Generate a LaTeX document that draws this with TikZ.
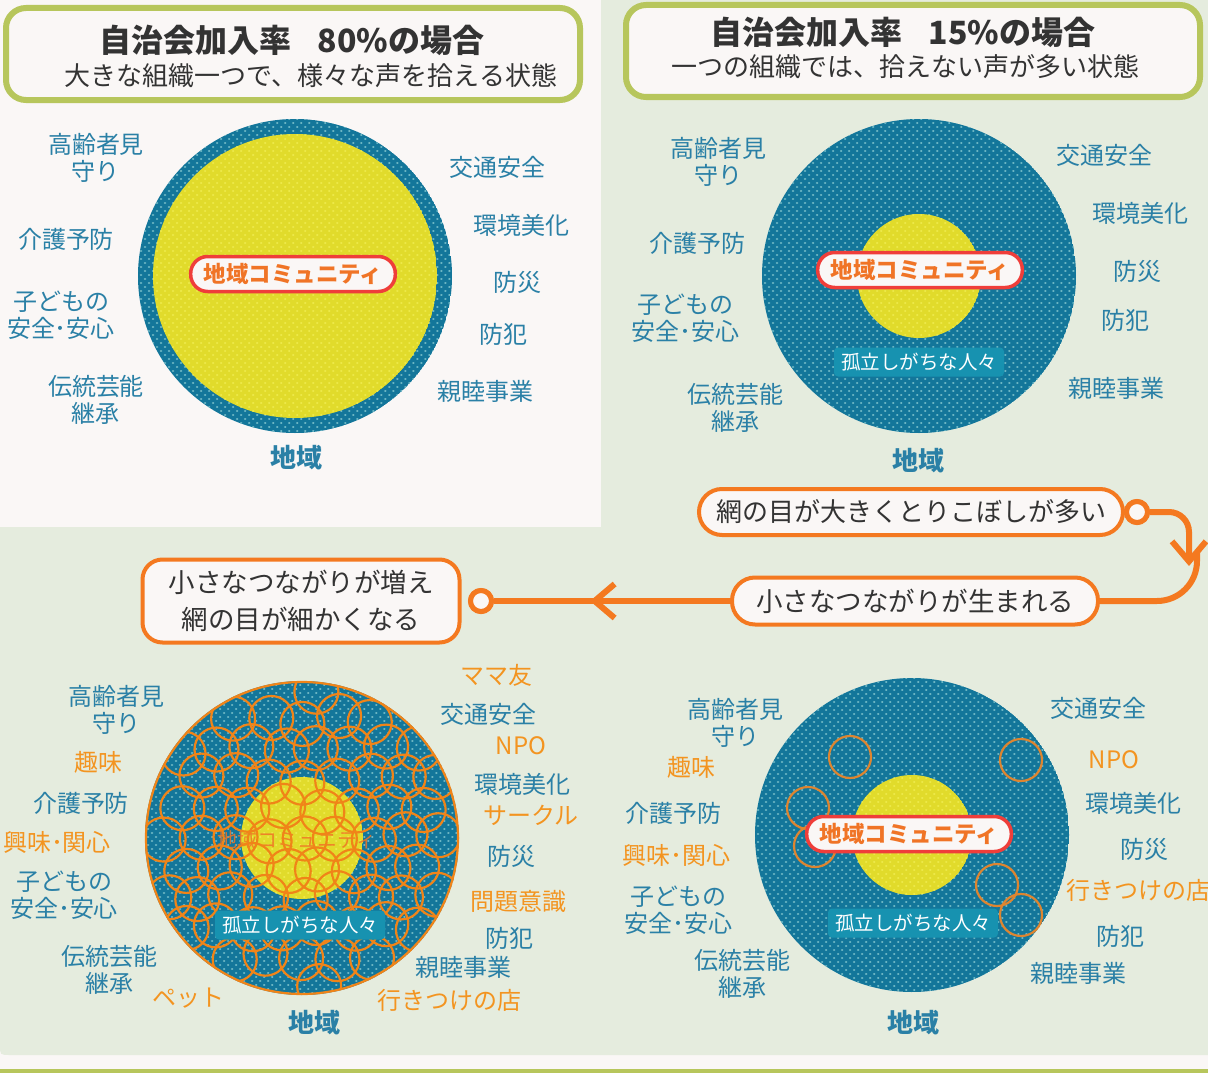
\documentclass[tikz,border=0pt]{standalone}
\usepackage{fontspec}
\newfontfamily\jp{Noto Sans CJK JP}
\usetikzlibrary{arrows.meta}
\definecolor{bg}{HTML}{FAF7F6}
\definecolor{panel}{HTML}{E5ECDE}
\definecolor{olive}{HTML}{B7C65C}
\definecolor{lblue}{HTML}{2A80A6}
\definecolor{lorange}{HTML}{F39420}
\definecolor{ringblue}{HTML}{13769A}
\definecolor{dotblue}{HTML}{74BCC8}
\definecolor{yel}{HTML}{E1DB2B}
\definecolor{doty}{HTML}{EEEA4C}
\definecolor{flow}{HTML}{F47920}
\definecolor{commred}{HTML}{EF3E3A}
\definecolor{commtext}{HTML}{F07426}
\definecolor{isoc}{HTML}{1792B0}
\definecolor{darktext}{HTML}{333333}
\definecolor{netc}{HTML}{F08418}
\definecolor{netc2}{HTML}{DE8530}
\tikzset{
  lbl/.style={text=lblue, font=\jp\fontsize{24}{27}\selectfont, align=center, inner sep=0pt},
  olbl/.style={text=lorange, font=\jp\fontsize{24}{27}\selectfont, align=center, inner sep=0pt},
  region/.style={text=lblue, font=\jp\bfseries\fontsize{26}{28}\selectfont, inner sep=0pt},
  titlebox/.style={draw=olive, line width=6pt, rounded corners=20pt, fill=bg, minimum width=574pt, minimum height=92pt, inner sep=0pt},
  ttl/.style={text=darktext, font=\jp\bfseries\fontsize{32}{34}\selectfont, inner sep=0pt},
  subttl/.style={text=darktext, font=\jp\fontsize{26}{28}\selectfont, inner sep=0pt},
  commbox/.style={draw=commred, line width=3.5pt, fill=bg, rounded corners=17pt, text=commtext, font=\jp\bfseries\fontsize{22.5}{24}\selectfont, minimum height=35pt, inner xsep=13pt, inner ysep=0pt},
  isobox/.style={fill=isoc, rounded corners=4pt, text=white, font=\jp\fontsize{19.5}{22}\selectfont, minimum height=29pt, inner xsep=7pt, inner ysep=0pt},
  flowbox/.style={draw=flow, line width=4pt, fill=bg, rounded corners=23pt, text=darktext, align=center, inner sep=0pt},
  flowline/.style={draw=flow, line width=6pt},
  ringdot/.style={circle, draw=flow, line width=5pt, fill=bg, minimum size=21pt, inner sep=0pt},
  netline/.style={draw=netc, line width=2.2pt},
  smallring/.style={draw=netc2, line width=2.2pt},
  dotrow/.style={line width=2.7pt, line cap=round},
}
\newcommand{\dotdisk}[3]{%
  \begin{scope}
    \clip (#1,#2) circle[radius=157];
    \fill[ringblue] (#1,#2) circle[radius=157];
    \foreach \k in {0,...,81}{
      \pgfmathsetmacro\yy{#2-161+\k*4}
      \pgfmathsetmacro\ph{mod(\k,2)*4}
      \draw[dotrow, dotblue, dash pattern=on 0.01pt off 8pt, dash phase=\ph pt] ({#1-162},\yy) -- ({#1+162},\yy);
    }
  \end{scope}
  \begin{scope}
    \clip (#1,#2) circle[radius=#3];
    \fill[yel] (#1,#2) circle[radius=#3];
    \foreach \k in {0,...,81}{
      \pgfmathsetmacro\yy{#2-161+\k*4}
      \pgfmathsetmacro\ph{mod(\k,2)*4}
      \draw[dotrow, doty, dash pattern=on 0.01pt off 8pt, dash phase=\ph pt] ({#1-162},\yy) -- ({#1+162},\yy);
    }
  \end{scope}
}
\begin{document}
\begin{tikzpicture}[x=1pt,y=-1pt]
\useasboundingbox (0,0) rectangle (1208,1073);
% backgrounds
\fill[bg] (0,0) rectangle (1208,1073);
\fill[panel] (601,0) -- (1208,0) -- (1208,1055) -- (10,1055) .. controls (0,1055) .. (0,1045) -- (0,527) -- (601,527) -- cycle;
\fill[olive] (0,1069) rectangle (1208,1073);

% title boxes
\node[titlebox] (tb1) at (293,54) {};
\node[ttl] (tb1a) at (292,40) {自治会加入率\hspace{0.8em}80\%の場合};
\node[subttl] (tb1b) at (311,76) {大きな組織一つで、様々な声を拾える状態};
\node[titlebox] (tb2) at (913,51) {};
\node[ttl] (tb2a) at (903,32) {自治会加入率\hspace{0.8em}15\%の場合};
\node[subttl] (tb2b) at (905,67) {一つの組織では、拾えない声が多い状態};

% circles
\dotdisk{295}{276}{142}
\dotdisk{919}{276}{62}
\dotdisk{302}{838}{61}
\dotdisk{912}{835}{60}

% top-left panel
\node[commbox] (c1) at (293,274) {地域コミュニティ};
\node[lbl] (a1) at (96,158) {高齢者見\\守り};
\node[lbl] (a2) at (497,167) {交通安全};
\node[lbl] (a3) at (66,239) {介護予防};
\node[lbl] (a4) at (521,225) {環境美化};
\node[lbl] (a5) at (517,282) {防災};
\node[lbl] (a6) at (61,315) {子どもの\\安全･安心};
\node[lbl] (a7) at (503,334) {防犯};
\node[lbl] (a8) at (96,400) {伝統芸能\\継承};
\node[lbl] (a9) at (485,391) {親睦事業};
\node[region] (a10) at (296,458) {地域};

% top-right panel
\node[commbox] (c2) at (920,270) {地域コミュニティ};
\node[isobox] (i2) at (919,362) {孤立しがちな人々};
\node[lbl] (b1) at (718,162) {高齢者見\\守り};
\node[lbl] (b2) at (1104,155) {交通安全};
\node[lbl] (b3) at (1140,213) {環境美化};
\node[lbl] (b4) at (697,243) {介護予防};
\node[lbl] (b5) at (1137,271) {防災};
\node[lbl] (b6) at (685,318) {子どもの\\安全･安心};
\node[lbl] (b7) at (1125,320) {防犯};
\node[lbl] (b8) at (735,408) {伝統芸能\\継承};
\node[lbl] (b9) at (1116,388) {親睦事業};
\node[region] (b10) at (918,461) {地域};

% bottom-left circle net
\node[text=commtext, opacity=0.85, font=\jp\fontsize{20}{22}\selectfont, inner sep=0pt] (c3) at (297,840) {地域コミュニティ};
\begin{scope}
\clip (302,838) circle[radius=157];
\pgfmathsetseed{7}
\foreach \j in {-6,...,6}{
  \foreach \i in {-6,...,6}{
    \pgfmathsetmacro\cx{\i*34+abs(mod(\j,2))*17+rand*4}
    \pgfmathsetmacro\cy{\j*29.5+rand*4}
    \pgfmathsetmacro\dd{veclen(\cx,\cy)}
    \ifdim\dd pt<150pt
      \draw[netline] ({302+\cx},{838+\cy}) circle[radius=22];
    \fi
  }
}
\end{scope}
\draw[netline] (302,838) circle[radius=156];
\node[isobox] (i3) at (300,925) {孤立しがちな人々};

% bottom-left labels
\node[olbl] (d1) at (496,675) {ママ友};
\node[lbl] (d2) at (116,710) {高齢者見\\守り};
\node[lbl] (d3) at (488,714) {交通安全};
\node[olbl] (d4) at (521,746) {NPO};
\node[olbl] (d5) at (98,762) {趣味};
\node[lbl] (d6) at (522,784) {環境美化};
\node[lbl] (d7) at (81,803) {介護予防};
\node[olbl] (d8) at (531,815) {サークル};
\node[olbl] (d9) at (57,842) {興味･関心};
\node[lbl] (d10) at (511,856) {防災};
\node[lbl] (d11) at (64,895) {子どもの\\安全･安心};
\node[olbl] (d12) at (518,901) {問題意識};
\node[lbl] (d13) at (509,938) {防犯};
\node[lbl] (d14) at (109,970) {伝統芸能\\継承};
\node[lbl] (d15) at (463,967) {親睦事業};
\node[olbl] (d16) at (188,998) {ペット};
\node[olbl] (d17) at (449,1000) {行きつけの店};
\node[region] (d18) at (314,1023) {地域};

% bottom-right circle
\foreach \px/\py in {850/757, 1021/760, 808/808, 815/846, 997/885, 1021/915}{
  \draw[smallring] (\px,\py) circle[radius=21];
}
\node[commbox] (c4) at (909,834) {地域コミュニティ};
\node[isobox] (i4) at (913,923) {孤立しがちな人々};
\node[lbl] (e1) at (735,723) {高齢者見\\守り};
\node[lbl] (e2) at (1098,708) {交通安全};
\node[olbl] (e3) at (1114,760) {NPO};
\node[olbl] (e4) at (691,767) {趣味};
\node[lbl] (e5) at (1133,803) {環境美化};
\node[lbl] (e6) at (673,813) {介護予防};
\node[olbl] (e7) at (676,855) {興味･関心};
\node[lbl] (e8) at (1144,849) {防災};
\node[olbl, anchor=west] (e9) at (1066,890) {行きつけの店};
\node[lbl] (e10) at (678,910) {子どもの\\安全･安心};
\node[lbl] (e11) at (1120,936) {防犯};
\node[lbl] (e12) at (742,974) {伝統芸能\\継承};
\node[lbl] (e13) at (1078,973) {親睦事業};
\node[region] (e14) at (913,1023) {地域};

% flow
\node[flowbox, minimum width=424pt, minimum height=46pt, font=\jp\fontsize{26}{30}\selectfont] (f1) at (911,512) {網の目が大きくとりこぼしが多い};
\node[flowbox, minimum width=366pt, minimum height=47pt, font=\jp\fontsize{26.5}{30}\selectfont] (f2) at (915,601) {小さなつながりが生まれる};
\node[flowbox, minimum width=317pt, minimum height=83pt, rounded corners=20pt, font=\jp\fontsize{26.5}{37}\selectfont] (f3) at (301,601) {小さなつながりが増え\\網の目が細かくなる};
\coordinate (k1) at (1189,512);
\coordinate (k2) at (1189,566);
\coordinate (k3) at (1197,552);
\coordinate (k4) at (1197,601);
\coordinate (k5) at (590,601);
\coordinate (k6) at (596,601);
\node[ringdot] (r1) at (1137,512) {};
\node[ringdot] (r2) at (481,601) {};
\draw[flowline, rounded corners=20pt, -{Straight Barb[length=20pt,width=34pt,line width=6pt]}] (r1.east) -- (k1) -- (k2);
\draw[flowline, rounded corners=40pt] (k3) -- (k4) -- (f2.east);
\draw[flowline, -{Straight Barb[length=20pt,width=34pt,line width=6pt]}] (f2.west) -- (k5);
\draw[flowline] (k6) -- (r2.east);
\node[ringdot] (r1b) at (r1) {};
\node[ringdot] (r2b) at (r2) {};
\end{tikzpicture}
\end{document}
